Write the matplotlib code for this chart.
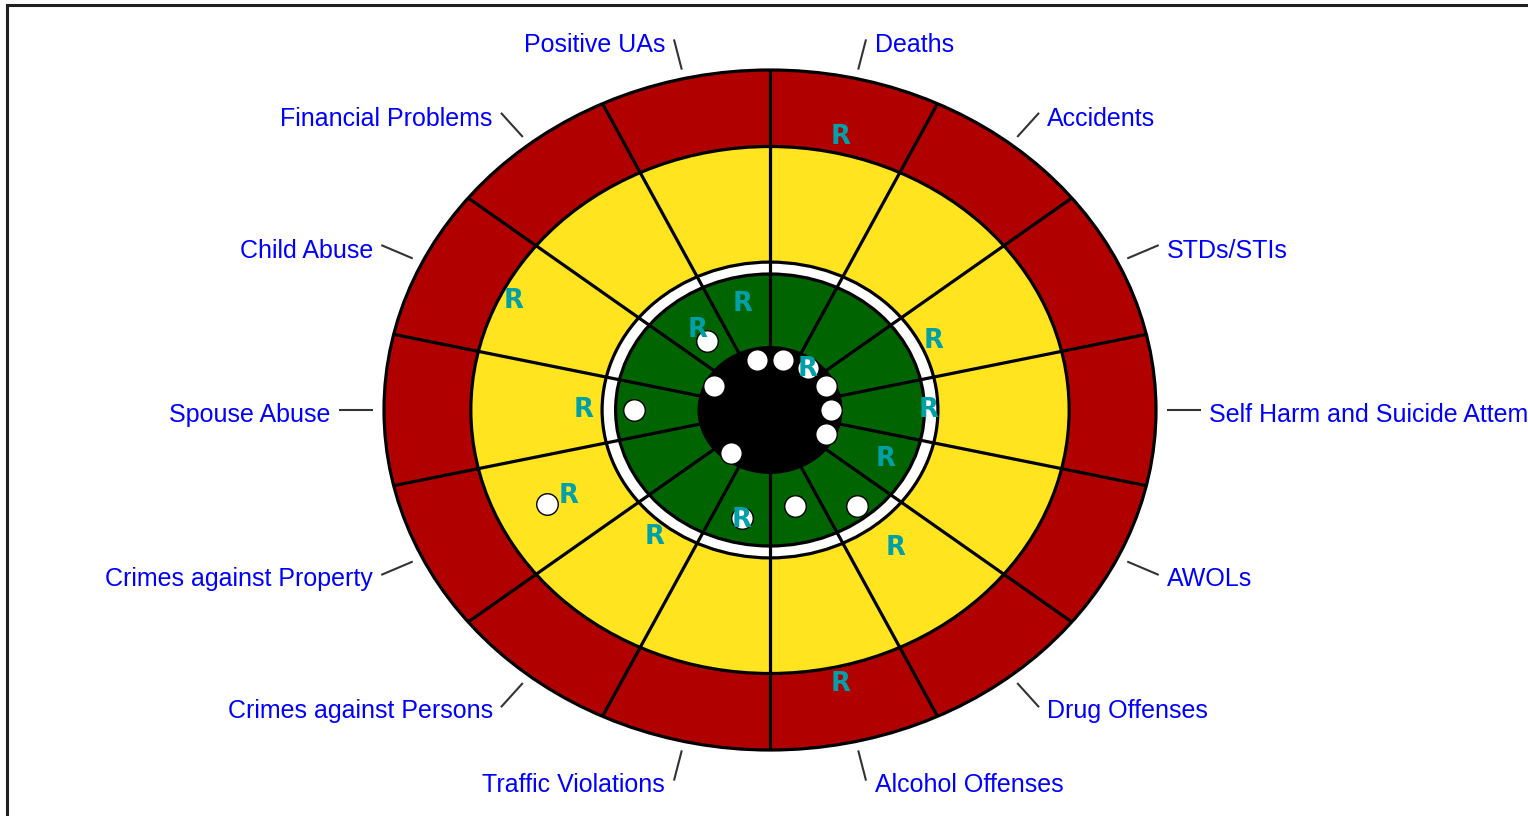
import numpy as np
import matplotlib
matplotlib.use("Agg")
import matplotlib.pyplot as plt
from matplotlib.patches import Circle
from matplotlib.lines import Line2D

# ---- data ----
categories = ["Deaths", "Accidents", "STDs/STIs", "Self Harm and Suicide Attempts",
              "AWOLs", "Drug Offenses", "Alcohol Offenses", "Traffic Violations",
              "Crimes against Persons", "Crimes against Property", "Spouse Abuse",
              "Child Abuse", "Financial Problems", "Positive UAs"]
dot_values = [0.15, 0.158, 0.16, 0.158, 0.16, 0.36, 0.29, 0.325,
              0.16, 0.64, 0.352, 0.16, 0.26, 0.15]
r_values = [0.823, 0.155, 0.47, 0.41, 0.332, 0.52, 0.826, 0.333,
            0.478, 0.58, 0.484, 0.738, 0.302, 0.321]

# ring boundaries (fraction of outer radius)
ring_black = 0.186
ring_green = 0.40
ring_white = 0.435
ring_yellow = 0.775
ring_red = 1.0

W, H = 1528, 816
CX, CY = 770, 410
RX, RY = 386, 340

fig = plt.figure(figsize=(W / 100, H / 100), dpi=100)
ax = fig.add_axes([0, 0, 1, 1])
ax.set_xlim(-CX / RX, (W - CX) / RX)
ax.set_ylim((CY - H) / RY, CY / RY)
ax.axis("off")

RED = "#B00000"
YELLOW = "#FFE41F"
GREEN = "#006400"
TEAL = "#00A0A8"
BLUE = "#0000FF"

edge_lw = 2.3
ax.add_patch(Circle((0, 0), ring_red, facecolor=RED, edgecolor="black", lw=edge_lw, zorder=1))
ax.add_patch(Circle((0, 0), ring_yellow, facecolor=YELLOW, edgecolor="black", lw=edge_lw, zorder=2))
ax.add_patch(Circle((0, 0), ring_white, facecolor="white", edgecolor="black", lw=edge_lw, zorder=3))
ax.add_patch(Circle((0, 0), ring_green, facecolor=GREEN, edgecolor="black", lw=edge_lw, zorder=4))

n = len(categories)
step = 360.0 / n
for k in range(n):
    a = np.deg2rad(90 - step * k)
    ax.plot([0, ring_red * np.cos(a)], [0, ring_red * np.sin(a)], color="black",
            lw=2.3, zorder=5, solid_capstyle="butt")

ax.add_patch(Circle((0, 0), ring_black, facecolor="black", edgecolor="black", lw=1, zorder=6))

centers = np.deg2rad(90 - step * (np.arange(n) + 0.5))

# dots
dv = np.array(dot_values)
ax.plot(dv * np.cos(centers), dv * np.sin(centers), "o", ms=15.5,
        markerfacecolor="white", markeredgecolor="black", mew=1.0, zorder=7, linestyle="none")

# R markers
rv = np.array(r_values)
for ang, r in zip(centers, rv):
    ax.text(r * np.cos(ang), r * np.sin(ang), "R", color=TEAL, fontsize=18.5,
            fontweight="bold", family="DejaVu Sans", ha="center", va="center", zorder=8)

# labels with leader lines
r0, r1 = 1.03, 1.115
for lab, ang in zip(categories, centers):
    c, s = np.cos(ang), np.sin(ang)
    ax.plot([r0 * c, r1 * c], [r0 * s, r1 * s], color="#333333", lw=1.5, zorder=9)
    right = c > 0
    ax.annotate(lab, xy=(r1 * c, r1 * s), xytext=(9 if right else -9, -5),
                textcoords="offset pixels", ha="left" if right else "right",
                va="center", color=BLUE, fontsize=18, family="Liberation Sans",
                zorder=10, annotation_clip=False)

# frame (left & top)
fig.add_artist(Line2D([6.5 / W, 6.5 / W], [0, 1 - 4.5 / H], transform=fig.transFigure,
                      color="#202020", lw=2.2))
fig.add_artist(Line2D([6.5 / W, 1], [1 - 4.5 / H, 1 - 4.5 / H], transform=fig.transFigure,
                      color="#202020", lw=2.2))

fig.savefig("out.png", dpi=100)
